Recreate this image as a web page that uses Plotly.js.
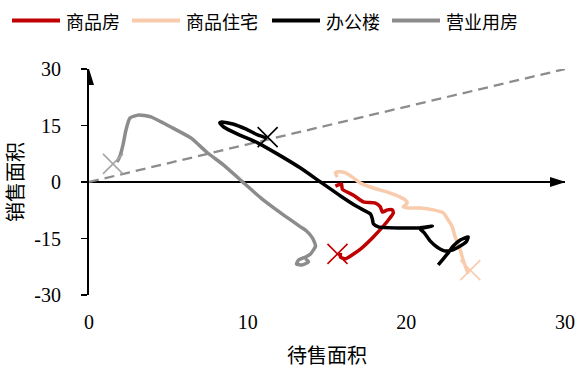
<!DOCTYPE html>
<html><head><meta charset="utf-8">
<script src="https://cdn.plot.ly/plotly-3.0.1.min.js"></script>
<style>html,body{margin:0;padding:0;background:#fff}#chart{width:577px;height:369px}</style>
</head><body><div id="chart"></div>
<script>
// series names
const seriesNames = ['商品房', '商品住宅', '办公楼', '营业用房'];
const seriesColors = ['#C00000', '#F8CBAD', '#000000', '#8C8C8C'];

// 商品房 (待售面积, 销售面积)
const spX = [15.53,15.91,15.97,16.67,17.30,18.05,18.36,18.49,18.81,19.12,19.18,18.87,17.92,17.11,16.16,15.85,15.85];
const spY = [-1.1,-0.5,-1.9,-3.5,-5.3,-5.6,-6.6,-8.0,-7.4,-7.4,-8.2,-10.1,-14.6,-17.8,-20.4,-19.9,-18.8];
// 商品住宅
const zzX = [15.66,15.53,15.72,16.16,16.60,17.11,17.92,18.81,19.62,19.94,20.06,19.81,20.13,20.88,21.70,22.33,22.64,22.89,23.08,23.40,23.58,23.90];
const zzY = [1.3,2.4,2.7,2.4,1.3,-0.3,-1.6,-2.7,-4.0,-4.8,-5.6,-6.6,-6.9,-6.9,-7.4,-8.2,-10.1,-11.9,-14.6,-18.1,-20.7,-24.4];
// 办公楼
const bgX = [22.01,22.33,22.64,22.96,23.40,23.90,23.77,23.40,22.89,22.45,21.95,21.51,21.13,20.88,21.64,20.82,19.62,18.24,17.92,17.86,17.74,16.92,15.85,14.59,13.33,11.89,10.63,9.37,8.49,8.24,8.36,9.06,9.87,10.63,11.19];
const bgY = [-22.0,-20.4,-18.8,-17.0,-15.4,-14.6,-15.9,-17.0,-18.1,-18.3,-17.3,-15.7,-13.5,-12.5,-11.7,-12.2,-12.2,-11.9,-11.1,-9.8,-8.5,-6.6,-3.7,0,3.7,7.4,10.4,12.7,14.6,15.7,15.9,15.4,14.1,12.5,11.7];
// 营业用房
const yyX = [13.65,13.84,13.46,13.08,13.21,13.65,13.96,14.28,14.09,13.71,13.33,12.08,10.82,9.69,8.49,7.48,6.42,5.16,3.90,3.14,2.58,2.33,2.14,1.95,1.76];
const yyY = [-20.4,-21.2,-22.0,-21.8,-20.7,-19.9,-19.1,-17.0,-14.9,-13.0,-11.9,-8.2,-4.2,0,4.5,7.7,11.7,14.6,17.3,17.8,17.0,13.8,9.8,6.9,5.3];

// latest-point markers (X) for each series, same order as seriesNames
const markX = [15.66, 24.03, 11.26, 1.51];
const markY = [-19.1, -23.4, 11.9, 4.8];

// reference diagonal
const diagX = [0, 30];
const diagY = [0, 30];

// tick values and labels
const xTicks = [0, 10, 20, 30];
const xTickText = ['0', '10', '20', '30'];
const yTicks = [-30, -15, 0, 15, 30];
const yTickText = ['-30', '-15', '0', '15', '30'];

const lineX = [spX, zzX, bgX, yyX];
const lineY = [spY, zzY, bgY, yyY];

const serif = "Liberation Serif";
const cjk = "Noto Sans CJK SC";

const traces = [{
  x: diagX, y: diagY, mode: 'lines', showlegend: false, hoverinfo: 'skip',
  line: {color: '#8C8C8C', width: 2.3, dash: '10px,6px'}
}];
seriesNames.forEach((n, i) => {
  traces.push({
    x: lineX[i], y: lineY[i], name: n, mode: 'lines', showlegend: false,
    line: {color: seriesColors[i], width: 3.5, shape: 'spline', smoothing: 0.5}
  });
});
seriesNames.forEach((n, i) => {
  traces.push({
    x: [markX[i]], y: [markY[i]], name: n, mode: 'markers', showlegend: false,
    marker: {symbol: 'x-thin', size: 20, line: {width: 1.6, color: i === 3 ? '#A6A6A6' : seriesColors[i]}}
  });
});

// custom legend
const legX0 = [12, 132, 272, 392];
const plotL = 89, plotR = 565, plotT = 69, plotB = 295;
const pw = plotR - plotL, ph = plotB - plotT;
const px2x = p => (p - plotL) / pw;
const py2y = p => (plotB - p) / ph;
const shapes = [];
const annotations = [];
seriesNames.forEach((n, i) => {
  shapes.push({type: 'line', xref: 'paper', yref: 'paper',
    x0: px2x(legX0[i]), x1: px2x(legX0[i] + 48), y0: py2y(20.5), y1: py2y(20.5),
    line: {color: seriesColors[i], width: 4}});
  annotations.push({xref: 'paper', yref: 'paper', x: px2x(legX0[i] + 52), y: py2y(21),
    xanchor: 'left', yanchor: 'middle', showarrow: false, text: n,
    font: {family: cjk, size: 18, color: '#000'}});
});
// axis arrows
shapes.push({type: 'path', xref: 'x', yref: 'y', xsizemode: 'pixel', ysizemode: 'pixel',
  xanchor: 0, yanchor: 30, path: 'M-5,-16 L5,-16 L0,0 Z', fillcolor: '#000', line: {width: 0}});
shapes.push({type: 'path', xref: 'x', yref: 'y', xsizemode: 'pixel', ysizemode: 'pixel',
  xanchor: 30, yanchor: 0, path: 'M-15,-5 L-15,5 L1,0 Z', fillcolor: '#000', line: {width: 0}});

const layout = {
  width: 577, height: 369,
  margin: {l: plotL, r: 577 - plotR, t: plotT, b: 369 - plotB},
  paper_bgcolor: '#fff', plot_bgcolor: '#fff',
  showlegend: false,
  xaxis: {
    range: [0, 30], tickvals: xTicks, ticktext: xTickText, showline: false, zeroline: false, showgrid: false, ticks: '',
    tickfont: {family: serif, size: 20, color: '#000'}, ticklabelstandoff: 13,
    title: {text: '待售面积', font: {family: cjk, size: 20, color: '#000'}, standoff: 16},
    automargin: false
  },
  yaxis: {
    range: [-30, 30], tickvals: yTicks, ticktext: yTickText, showline: true, linecolor: '#000', linewidth: 2,
    ticks: 'outside', ticklen: 6, tickwidth: 1.5, tickcolor: '#000',
    zeroline: true, zerolinecolor: '#000', zerolinewidth: 2, showgrid: false,
    tickfont: {family: serif, size: 20, color: '#000'}, ticklabelstandoff: 16,
    title: {text: '销售面积', font: {family: cjk, size: 20, color: '#000'}, standoff: 7},
    automargin: false
  },
  shapes: shapes,
  annotations: annotations
};
Plotly.newPlot('chart', traces, layout, {displayModeBar: false, staticPlot: true});
</script>
</body></html>
